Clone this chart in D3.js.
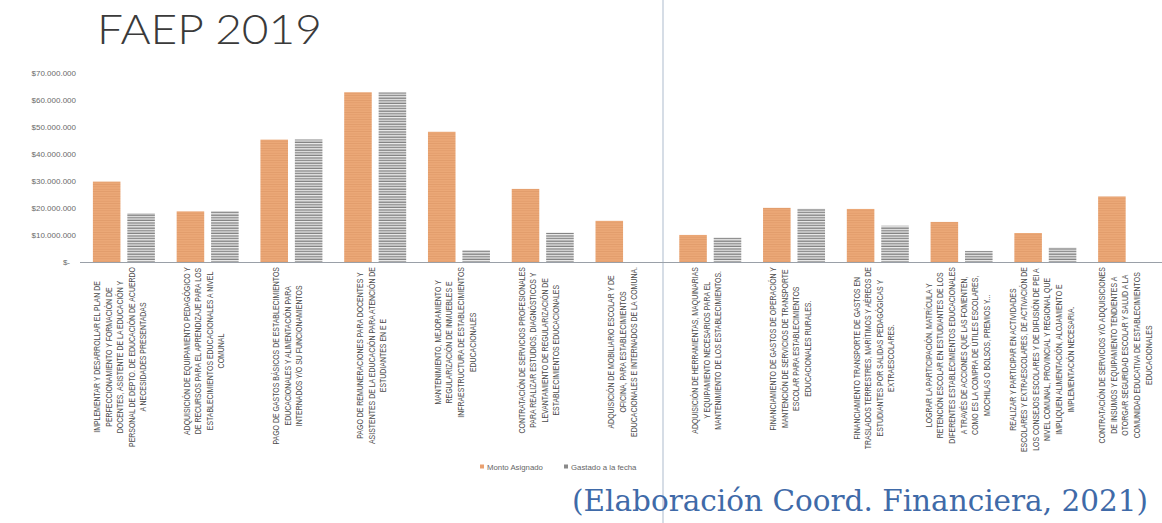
<!DOCTYPE html>
<html>
<head>
<meta charset="utf-8">
<script src="https://cdn.jsdelivr.net/npm/d3@7"></script>
<style>
  html, body { margin: 0; padding: 0; background: #fff; }
  svg { display: block; }
</style>
</head>
<body>
<svg id="chart" width="1162" height="523"></svg>
<script>
// values in millions of pesos
const categories = [
  ["IMPLEMENTAR Y DESARROLLAR EL PLAN DE", "PERFECCIONAMIENTO Y FORMACIÓN DE", "DOCENTES, ASISTENTE DE LA EDUCACIÓN Y", "PERSONAL DE DEPTO. DE EDUCACIÓN DE ACUERDO", "A NECESIDADES PRESENTADAS"],
  ["ADQUISICIÓN DE EQUIPAMIENTO PEDAGÓGICO Y", "DE RECURSOS PARA EL APRENDIZAJE PARA LOS", "ESTABLECIMIENTOS EDUCACIONALES A NIVEL", "COMUNAL"],
  ["PAGO DE GASTOS BÁSICOS DE ESTABLECIMIENTOS", "EDUCACIONALES Y ALIMENTACIÓN PARA", "INTERNADOS Y/O SU FUNCIONAMIENTOS"],
  ["PAGO DE REMUNERACIONES PARA DOCENTES Y", "ASISTENTES DE LA EDUCACIÓN PARA ATENCIÓN DE", "ESTUDIANTES EN E E"],
  ["MANTENIMIENTO, MEJORAMIENTO Y", "REGULARIZACIÓN DE INMUEBLES E", "INFRAESTRUCTURA DE ESTABLECIMIENTOS", "EDUCACIONALES"],
  ["CONTRATACIÓN DE SERVICIOS PROFESIONALES", "PARA REALIZAR ESTUDIOS, DIAGNÓSTICOS Y", "LEVANTAMIENTO DE REGULARIZACIÓN DE", "ESTABLECIMIENTOS EDUCACIONALES"],
  ["ADQUISICIÓN DE MOBILIARIO ESCOLAR Y DE", "OFICINA, PARA ESTABLECIMIENTOS", "EDUCACIONALES E INTERNADOS DE LA COMUNA."],
  ["ADQUISICIÓN DE HERRAMIENTAS, MAQUINARIAS", "Y EQUIPAMIENTO NECESARIOS PARA EL", "MANTENIMIENTO DE LOS ESTABLECIMIENTOS."],
  ["FINANCIAMIENTO DE GASTOS DE OPERACIÓN Y", "MANTENCIÓN DE SERVICIOS DE TRANSPORTE", "ESCOLAR PARA ESTABLECIMIENTOS", "EDUCACIONALES RURALES."],
  ["FINANCIAMIENTO TRANSPORTE DE GASTOS EN", "TRASLADOS TERRESTRES, MARÍTIMOS Y AÉREOS DE", "ESTUDIANTES POR SALIDAS PEDAGÓGICAS Y", "EXTRAESCOLARES."],
  ["LOGRAR LA PARTICIPACIÓN, MATRÍCULA Y", "RETENCIÓN ESCOLAR EN ESTUDIANTES DE LOS", "DIFERENTES ESTABLECIMIENTOS EDUCACIONALES", "A TRAVÉS DE ACCIONES QUE LAS FOMENTEN,", "COMO ES LA COMPRA DE ÚTILES ESCOLARES,", "MOCHILAS O BOLSOS, PREMIOS Y..."],
  ["REALIZAR Y PARTICIPAR EN ACTIVIDADES", "ESCOLARES Y EXTRAESCOLARES, DE ACTIVACIÓN DE", "LOS CONSEJOS ESCOLARES Y DE DIFUSIÓN DE PEI A", "NIVEL COMUNAL, PROVINCIAL Y REGIONAL QUE", "IMPLIQUEN ALIMENTACIÓN, ALOJAMIENTO E", "IMPLEMENTACIÓN NECESARIA."],
  ["CONTRATACIÓN DE SERVICIOS Y/O ADQUISICIONES", "DE INSUMOS Y EQUIPAMIENTO TENDIENTES A", "OTORGAR SEGURIDAD ESCOLAR Y SALUD A LA", "COMUNIDAD EDUCATIVA DE ESTABLECIMIENTOS", "EDUCACIONALES"]
];
const montoAsignado = [29.7, 18.7, 45.2, 62.7, 48.1, 27.0, 15.2, 10.0, 20.0, 19.6, 14.8, 10.7, 24.2];
const gastadoFecha  = [18.1, 18.8, 45.3, 62.7, 4.4, 10.8, 0, 9.0, 19.7, 13.4, 4.1, 5.4, 0];
const seriesNames = ["Monto Asignado", "Gastado a la fecha"];
const yTicks = [0, 10, 20, 30, 40, 50, 60, 70];

const svg = d3.select("#chart");
const baseY = 262;
const topY = 72.5;
const left = 82, right = 1171;

const defs = svg.append("defs");
// scanned look: stripes
const pOr = defs.append("pattern").attr("id", "pOrange")
  .attr("patternUnits", "userSpaceOnUse").attr("width", 6).attr("height", 2.4);
pOr.append("rect").attr("width", 6).attr("height", 2.4).attr("fill", "#eba877");
pOr.append("rect").attr("y", 1.6).attr("width", 6).attr("height", 0.8).attr("fill", "#d98f5f").attr("opacity", 0.55);
const pGr = defs.append("pattern").attr("id", "pGray")
  .attr("patternUnits", "userSpaceOnUse").attr("width", 6).attr("height", 2.6);
pGr.append("rect").attr("width", 6).attr("height", 2.6).attr("fill", "#ececec");
pGr.append("rect").attr("y", 1.4).attr("width", 6).attr("height", 1).attr("fill", "#606060");

const color = d3.scaleOrdinal().domain(seriesNames).range(["url(#pOrange)", "url(#pGray)"]);
const legendColor = d3.scaleOrdinal().domain(seriesNames).range(["#e9a070", "#8a8a8a"]);

const x0 = d3.scaleBand().domain(d3.range(categories.length)).range([left, right]).paddingInner(0.26).paddingOuter(0.13);
const x1 = d3.scaleBand().domain(seriesNames).range([0, x0.bandwidth()]).paddingInner(0.2);
const y = d3.scaleLinear().domain([0, 70]).range([baseY, topY]);

// scan fold line
svg.append("line").attr("x1", 663).attr("x2", 663).attr("y1", 0).attr("y2", 523)
  .attr("stroke", "#c9d2de").attr("stroke-width", 1.5);

// title
svg.append("text").text("FAEP 2019")
  .attr("x", 97).attr("y", 44)
  .attr("font-family", "Lato, 'Open Sans', sans-serif").attr("font-weight", 300)
  .attr("font-size", 42).attr("fill", "#3a3a3a")
  .attr("textLength", 225).attr("lengthAdjust", "spacingAndGlyphs");

// y axis
const fmt = v => v === 0 ? "$-" : "$" + d3.format(",")(v * 1e6).replace(/,/g, ".");
const yAxis = d3.axisLeft(y).tickValues(yTicks).tickFormat(fmt).tickSize(0).tickPadding(6);
const yAxisG = svg.append("g").attr("transform", `translate(${left},0)`).call(yAxis);
yAxisG.select(".domain").remove();
yAxisG.selectAll("text").attr("font-family", "'Liberation Sans', sans-serif")
  .attr("font-size", 8).attr("fill", "#6a6a6a")
  .attr("x", d => d === 0 ? -12 : -6);

// bars
const groups = svg.append("g").selectAll("g").data(categories).join("g")
  .attr("transform", (d, i) => `translate(${x0(i)},0)`);
groups.selectAll("rect")
  .data((d, i) => [
    { s: seriesNames[0], v: montoAsignado[i] },
    { s: seriesNames[1], v: gastadoFecha[i] }
  ])
  .join("rect")
  .attr("x", d => x1(d.s))
  .attr("y", d => y(d.v))
  .attr("width", x1.bandwidth())
  .attr("height", d => baseY - y(d.v))
  .attr("fill", d => color(d.s));

// x axis
const xAxisG = svg.append("g").attr("transform", `translate(0,${baseY})`)
  .call(d3.axisBottom(x0).tickSize(0).tickFormat(""));
xAxisG.select(".domain").attr("stroke", "#9aa0a8").attr("stroke-width", 1)
  .attr("d", `M${left - 2},0.5H1162`);

// category labels, rotated, lines centred inside block whose end touches the axis
const lineH = 11.6;
const labelFont = 9.4;
const labels = svg.append("g").selectAll("g").data(categories).join("g")
  .attr("transform", (d, i) => `translate(${x0(i) + x0.bandwidth() / 2 - 4},${baseY + 5}) rotate(-90)`);
labels.each(function (lines) {
  const g = d3.select(this);
  const n = lines.length;
  g.selectAll("text").data(lines).join("text")
    .text(d => d)
    .attr("font-family", "'Liberation Sans', Arial, sans-serif")
    .attr("font-size", labelFont)
    .attr("fill", "#4a4a4a")
    .attr("text-anchor", "middle")
    .attr("y", (d, j) => (j - (n - 1) / 2) * lineH + 3.3);
});
// compress so the longest line of the first label spans ~180px
let ref = 0;
labels.filter((d, i) => i === 0).selectAll("text").each(function () {
  ref = Math.max(ref, this.getComputedTextLength());
});
const k = 180 / ref;
labels.each(function () {
  const texts = d3.select(this).selectAll("text");
  let maxLen = 0;
  texts.each(function () {
    const len = this.getComputedTextLength() * k;
    this.__len = len;
    maxLen = Math.max(maxLen, len);
  });
  texts.attr("textLength", function () { return this.__len; })
    .attr("lengthAdjust", "spacingAndGlyphs")
    .attr("x", -maxLen / 2);
});

// legend
const legend = svg.append("g").attr("transform", "translate(480,467)");
const items = legend.selectAll("g").data(seriesNames).join("g")
  .attr("transform", (d, i) => `translate(${i * 84},0)`);
items.append("rect").attr("x", 0).attr("y", -2.5).attr("width", 4).attr("height", 4)
  .attr("fill", d => legendColor(d));
items.append("text").text(d => d).attr("x", 7).attr("y", 2.6)
  .attr("font-family", "'Liberation Sans', sans-serif").attr("font-size", 7.8).attr("fill", "#666");

// source note
svg.append("text").text("(Elaboración Coord. Financiera, 2021)")
  .attr("x", 572).attr("y", 511)
  .attr("font-family", "'DejaVu Serif', serif").attr("font-size", 29)
  .attr("fill", "#3f6aa8")
  .attr("textLength", 576).attr("lengthAdjust", "spacingAndGlyphs");
</script>
</body>
</html>
